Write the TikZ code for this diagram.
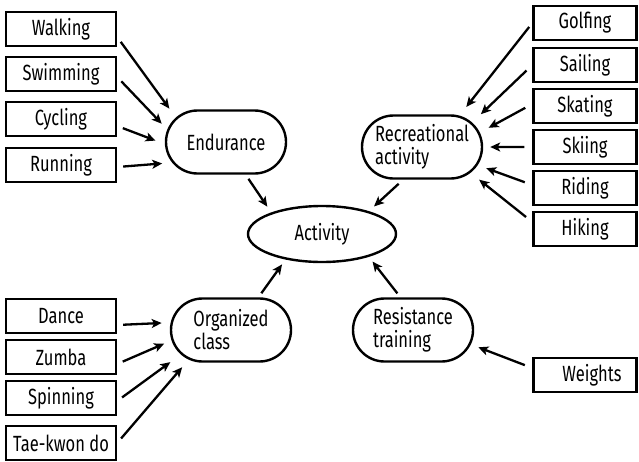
\documentclass[tikz,border=0pt]{standalone}
\usepackage{fontspec}
\setmainfont[FakeStretch=0.75]{Fira Sans}
\usetikzlibrary{shapes.misc,shapes.geometric,arrows.meta}

\begin{document}
\begin{tikzpicture}[x=1pt,y=-1pt,
  box/.style={draw,line width=2.4pt,inner sep=0pt,minimum width=110pt,minimum height=34pt,font=\fontsize{22}{23}\selectfont},
  rbox/.style={box,minimum width=103pt},
  blob/.style={draw,rounded rectangle,line width=2.4pt,inner sep=0pt,minimum width=120pt,minimum height=63pt,align=left,font=\fontsize{22}{23}\selectfont},
  arr/.style={line width=2.3pt,-{Stealth[length=10pt,width=9pt,inset=2.5pt]}}]
\useasboundingbox (0,0) rectangle (639,461);
% centre
\node[draw,ellipse,line width=2.4pt,inner sep=0pt,minimum width=148pt,minimum height=56pt,font=\fontsize{22}{23}\selectfont] (activity) at (322,234) {Activity};
\node[blob] (endurance) at (226,142) {Endurance};
\node[blob] (recreational) at (422,147) {Recreational\\activity};
\node[blob] (organized) at (231,330) {Organized\\class};
\node[blob] (resistance) at (413,330) {Resistance\\training};
\path[draw,arr,shorten <=5pt,shorten >=7pt] (endurance.301) -- (activity.157);
\path[draw,arr,shorten <=6pt,shorten >=7pt] (recreational.240) -- (activity.26);
\path[draw,arr,shorten <=5pt,shorten >=6pt] (organized.50) -- (activity.215);
\path[draw,arr,shorten <=5pt,shorten >=6pt] (resistance.111) -- (activity.334);
% endurance
\begin{scope}
\node[box] (walking) at (61,29) {Walking};
\node[box] (swimming) at (61,74) {Swimming};
\node[box] (cycling) at (61,119) {Cycling};
\node[box] (running) at (61,165) {Running};
\path[draw,arr,shorten <=6pt,shorten >=11pt] ([yshift=-8pt]walking.east) -- (endurance.154);
\path[draw,arr,shorten <=6pt,shorten >=8pt] ([yshift=-3pt]swimming.east) -- (endurance.168);
\path[draw,arr,shorten <=6pt,shorten >=10pt] ([yshift=-7pt]cycling.east) -- (endurance.182);
\path[draw,arr,shorten <=6pt,shorten >=10pt] ([yshift=-2pt]running.east) -- (endurance.201);
\end{scope}
% recreational activity
\begin{scope}
\node[rbox] (golfing) at (585,23) {Golfing};
\node[rbox] (sailing) at (585,65) {Sailing};
\node[rbox] (skating) at (585,106) {Skating};
\node[rbox] (skiing) at (585,147) {Skiing};
\node[rbox] (riding) at (585,188) {Riding};
\node[rbox] (hiking) at (585,229) {Hiking};
\path[draw,arr,shorten <=5pt,shorten >=11pt] (golfing.west) -- (recreational.40);
\path[draw,arr,shorten <=8pt,shorten >=12pt] (sailing.west) -- (recreational.26);
\path[draw,arr,shorten <=8pt,shorten >=10pt] ([yshift=2pt]skating.west) -- (recreational.14);
\path[draw,arr,shorten <=8pt,shorten >=7pt] (skiing.west) -- (recreational.0);
\path[draw,arr,shorten <=8pt,shorten >=9pt] ([yshift=3pt]riding.west) -- (recreational.342);
\path[draw,arr,shorten <=8pt,shorten >=11pt] ([yshift=7pt]hiking.west) -- (recreational.332);
\end{scope}
% organized class
\begin{scope}
\node[box] (dance) at (61,316) {Dance};
\node[box] (zumba) at (61,357) {Zumba};
\node[box] (spinning) at (61,398) {Spinning};
\node[box] (taekwondo) at (61,443) {Tae-kwon do};
\path[draw,arr,shorten <=6pt,shorten >=9pt] ([yshift=-9pt]dance.east) -- (organized.173);
\path[draw,arr,shorten <=6pt,shorten >=8pt] ([yshift=-7pt]zumba.east) -- (organized.190);
\path[draw,arr,shorten <=6pt,shorten >=13pt] ([yshift=-3pt]spinning.east) -- (organized.206);
\path[draw,arr,shorten <=6pt,shorten >=10pt] (taekwondo.east) -- (organized.215);
\end{scope}
% resistance training
\begin{scope}
\node[rbox] (weights) at (585,375) {\hspace{14pt}Weights};
\path[draw,arr,shorten <=8pt,shorten >=8pt] ([yshift=7pt]weights.west) -- (resistance.346);
\end{scope}
\end{tikzpicture}
\end{document}
